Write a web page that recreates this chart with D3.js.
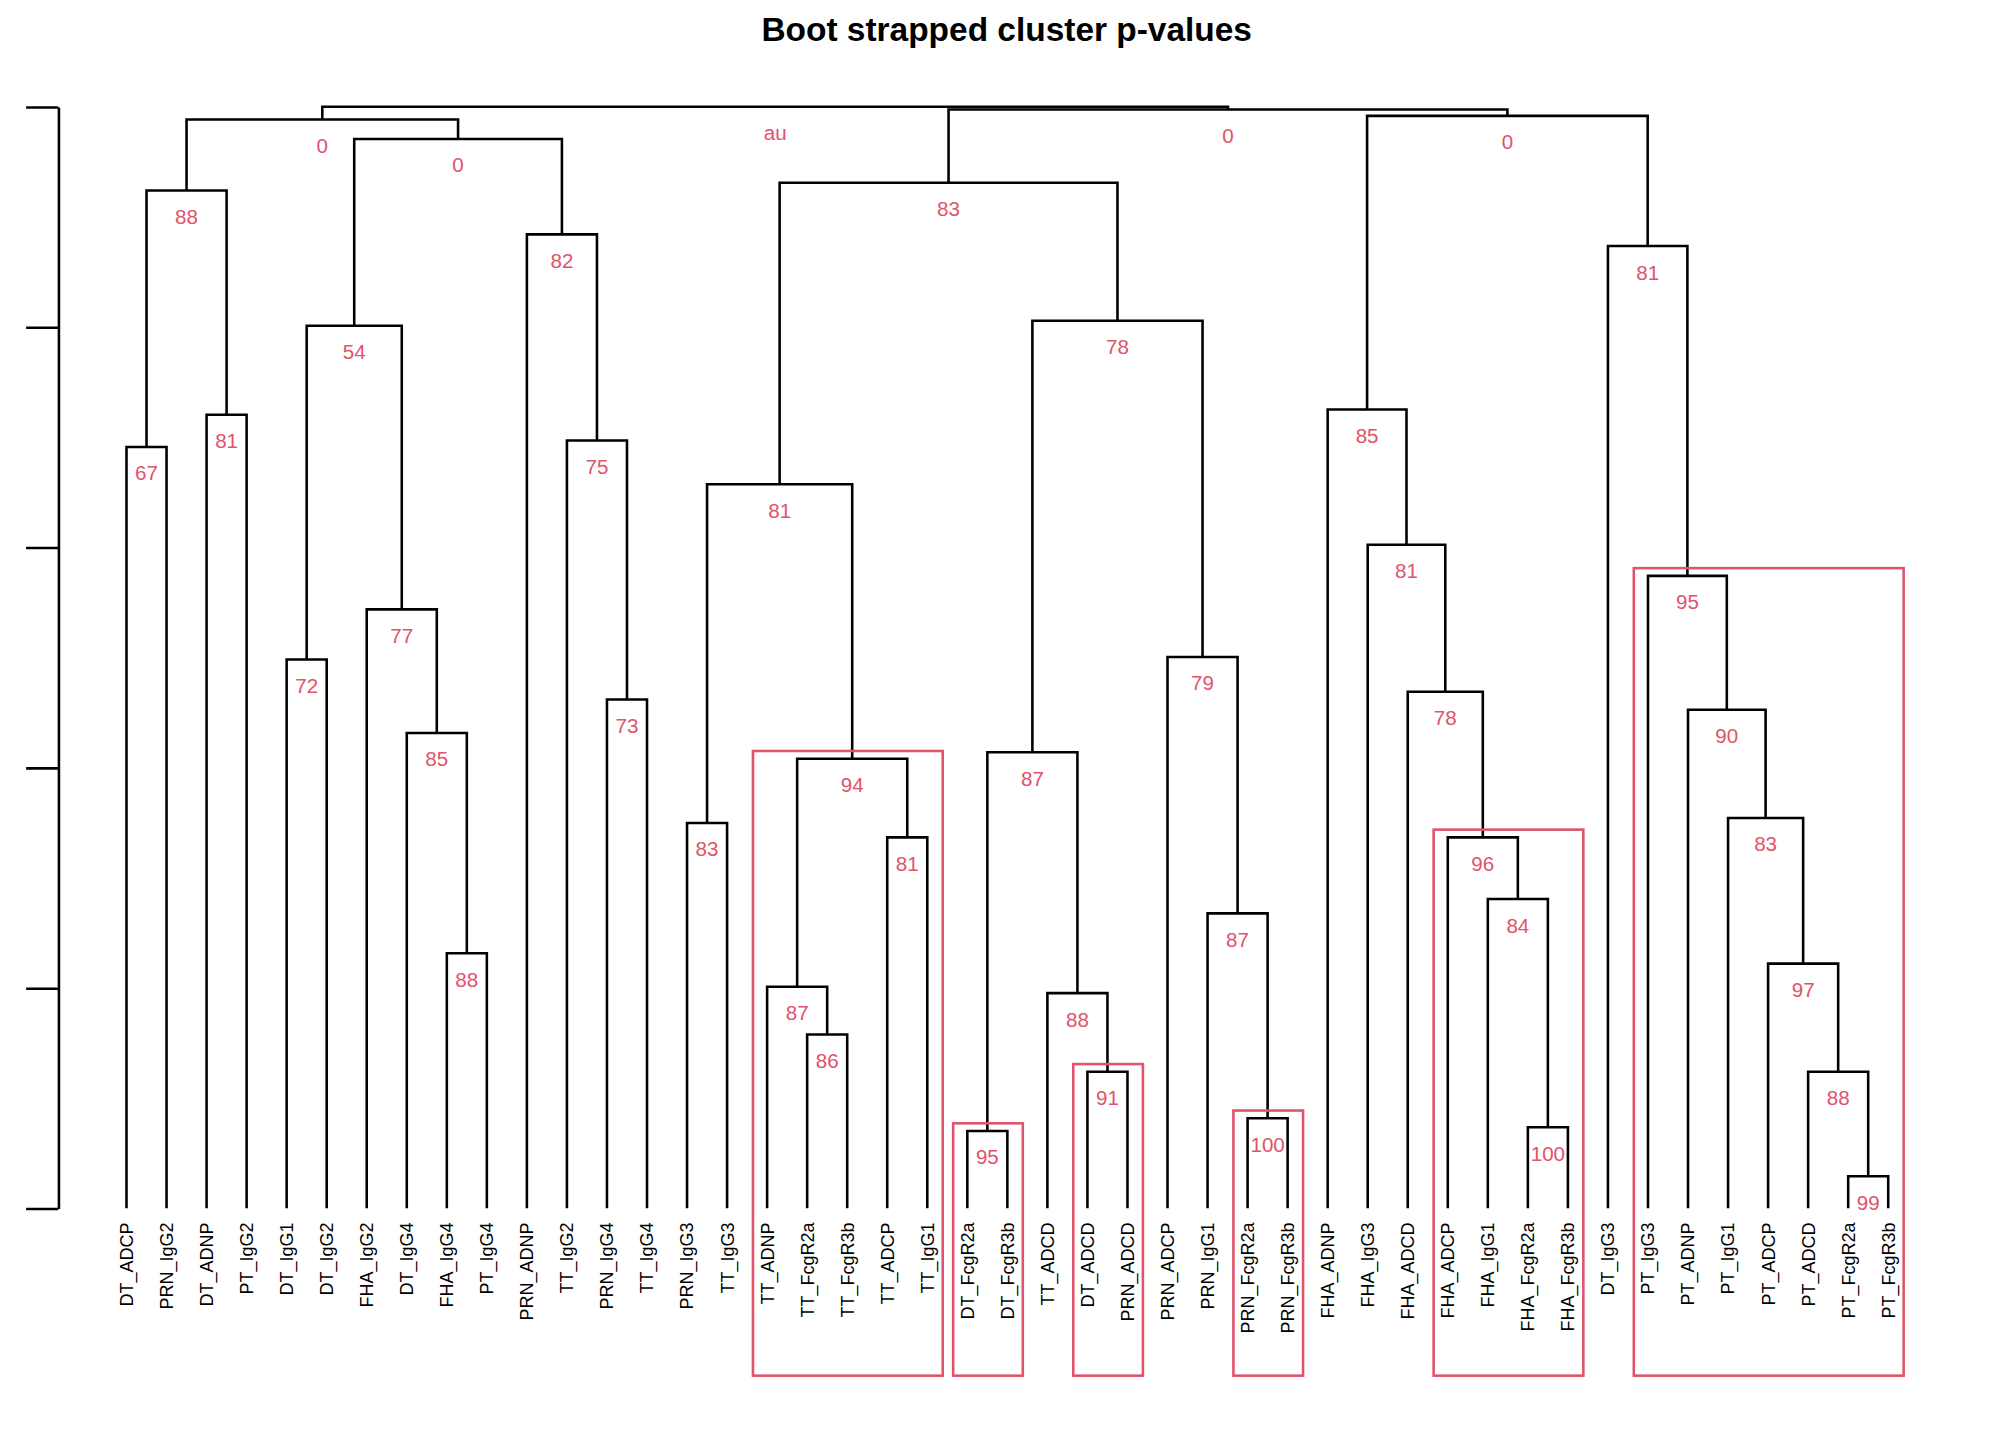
<!DOCTYPE html>
<html><head><meta charset="utf-8">
<script src="https://cdn.jsdelivr.net/npm/d3@7"></script>
<style>body{margin:0;background:#fff}</style></head>
<body><svg id="c" width="2016" height="1440" viewBox="0 0 1566 1119"></svg>
<script>
const title = "Boot strapped cluster p-values";
const leaves = ["DT_ADCP","PRN_IgG2","DT_ADNP","PT_IgG2","DT_IgG1","DT_IgG2","FHA_IgG2","DT_IgG4","FHA_IgG4","PT_IgG4","PRN_ADNP","TT_IgG2","PRN_IgG4","TT_IgG4","PRN_IgG3","TT_IgG3","TT_ADNP","TT_FcgR2a","TT_FcgR3b","TT_ADCP","TT_IgG1","DT_FcgR2a","DT_FcgR3b","TT_ADCD","DT_ADCD","PRN_ADCD","PRN_ADCP","PRN_IgG1","PRN_FcgR2a","PRN_FcgR3b","FHA_ADNP","FHA_IgG3","FHA_ADCD","FHA_ADCP","FHA_IgG1","FHA_FcgR2a","FHA_FcgR3b","DT_IgG3","PT_IgG3","PT_ADNP","PT_IgG1","PT_ADCP","PT_ADCD","PT_FcgR2a","PT_FcgR3b"];
// merges: [left, right] ; string = leaf, number = earlier merge index
const merges = [
 ["DT_ADCP","PRN_IgG2"],      //0
 ["DT_ADNP","PT_IgG2"],       //1
 [0,1],                       //2
 ["DT_IgG1","DT_IgG2"],       //3
 ["FHA_IgG4","PT_IgG4"],      //4
 ["DT_IgG4",4],               //5
 ["FHA_IgG2",5],              //6
 [3,6],                       //7
 ["PRN_IgG4","TT_IgG4"],      //8
 ["TT_IgG2",8],               //9
 ["PRN_ADNP",9],              //10
 [7,10],                      //11
 [2,11],                      //12
 ["PRN_IgG3","TT_IgG3"],      //13
 ["TT_FcgR2a","TT_FcgR3b"],   //14
 ["TT_ADNP",14],              //15
 ["TT_ADCP","TT_IgG1"],       //16
 [15,16],                     //17
 [13,17],                     //18
 ["DT_FcgR2a","DT_FcgR3b"],   //19
 ["DT_ADCD","PRN_ADCD"],      //20
 ["TT_ADCD",20],              //21
 [19,21],                     //22
 ["PRN_FcgR2a","PRN_FcgR3b"], //23
 ["PRN_IgG1",23],             //24
 ["PRN_ADCP",24],             //25
 [22,25],                     //26
 [18,26],                     //27
 ["FHA_FcgR2a","FHA_FcgR3b"], //28
 ["FHA_IgG1",28],             //29
 ["FHA_ADCP",29],             //30
 ["FHA_ADCD",30],             //31
 ["FHA_IgG3",31],             //32
 ["FHA_ADNP",32],             //33
 ["PT_FcgR2a","PT_FcgR3b"],   //34
 ["PT_ADCD",34],              //35
 ["PT_ADCP",35],              //36
 ["PT_IgG1",36],              //37
 ["PT_ADNP",37],              //38
 ["PT_IgG3",38],              //39
 ["DT_IgG3",39],              //40
 [33,40],                     //41
 [27,41],                     //42
 [12,42]                      //43 root
];
const heights = [3.456,3.602,4.620,2.491,1.158,2.158,2.719,4.006,2.310,3.485,4.421,4.854,4.942,1.749,0.789,1.006,1.684,2.041,3.287,0.351,0.620,0.977,2.070,0.409,1.339,2.503,4.029,4.655,0.368,1.404,1.684,2.345,3.012,3.626,0.146,0.620,1.111,1.772,2.263,2.871,4.368,4.959,4.988,5.0];
const auValues = [67,81,88,72,88,85,77,54,73,75,82,0,0,83,86,87,81,94,81,95,91,88,87,100,87,79,78,83,100,84,96,78,81,85,99,88,97,83,90,95,81,0,0,null];
const boxedMerges = [17,19,20,23,30,39];
const axisTicks = [0,1,2,3,4,5];

const svg = d3.select("#c");
const red = "#DF536B";
const font = "Liberation Sans, Arial, sans-serif";
const x = d3.scalePoint().domain(leaves).range([98,1467]);
const y = d3.scaleLinear().domain([0,5]).range([939,83]);

svg.append("text").attr("x",782).attr("y",32).attr("text-anchor","middle")
  .attr("font-family",font).attr("font-weight","bold")
  .attr("font-size",26).text(title);

const ax = d3.axisLeft(y).tickValues(axisTicks).tickFormat("").tickSize(25).tickSizeOuter(0);
const g = svg.append("g").attr("transform","translate(45,0)").call(ax);
g.selectAll("path,line").attr("stroke","#000").attr("stroke-width",2);

const pos = [], leafSet = [];
function info(c){ return typeof c==="string" ? {x:x(c),h:0,leaves:[c]} : {x:pos[c].x,h:heights[c],leaves:leafSet[c]}; }
merges.forEach((m,i)=>{
  const a = info(m[0]), b = info(m[1]);
  pos[i] = {x:(a.x+b.x)/2};
  leafSet[i] = a.leaves.concat(b.leaves);
  const hy = y(heights[i]);
  svg.append("path").attr("d",`M${a.x},${y(a.h)}V${hy}H${b.x}V${y(b.h)}`)
    .attr("fill","none").attr("stroke","#000").attr("stroke-width",2);
});
merges.forEach((m,i)=>{
  svg.append("text").attr("x",pos[i].x).attr("y",y(heights[i])+26)
    .attr("text-anchor","middle").attr("fill",red)
    .attr("font-family",font).attr("font-size",16)
    .text(auValues[i]===null ? "au" : auValues[i]);
});
boxedMerges.forEach(i=>{
  const ls = leafSet[i];
  const x0 = d3.min(ls,l=>x(l))-11, x1 = d3.max(ls,l=>x(l))+12;
  const top = y(heights[i])-6;
  svg.append("rect").attr("x",x0).attr("y",top).attr("width",x1-x0)
    .attr("height",1069-top).attr("fill","none").attr("stroke",red).attr("stroke-width",2);
});
leaves.forEach(l=>{
  svg.append("text").attr("transform",`translate(${x(l)+5},950) rotate(-90)`)
    .attr("text-anchor","end").attr("font-family",font)
    .attr("font-size",14).text(l);
});
</script></body></html>
